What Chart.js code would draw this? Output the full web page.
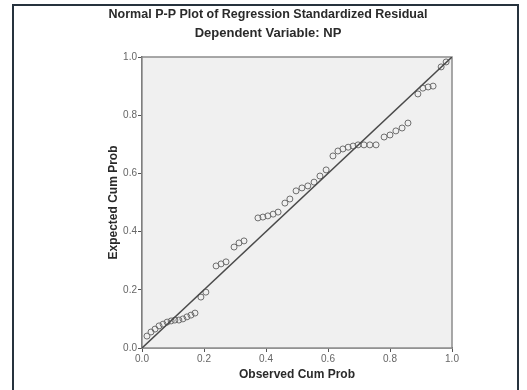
<!DOCTYPE html>
<html>
<head>
<meta charset="utf-8">
<script src="https://cdn.jsdelivr.net/npm/chart.js@4.4.1/dist/chart.umd.min.js"></script>
<style>
  html, body { margin: 0; padding: 0; background: #fff; }
  #wrap { position: relative; width: 527px; height: 390px; overflow: hidden; }
  #frame { position: absolute; left: 12px; top: 4px; width: 507px; height: 400px; border: 2px solid #26323d; box-sizing: border-box; }
  #box { position: absolute; left: 0; top: 0; width: 527px; height: 390px; }
</style>
</head>
<body>
<div id="wrap">
  <div id="frame"></div>
  <div id="box"><canvas id="ppChart"></canvas></div>
</div>
<script>
// Normal P-P plot
const observedCumProb = [
  0.016, 0.029, 0.042, 0.055, 0.068, 0.081, 0.094, 0.106, 0.119, 0.132,
  0.145, 0.158, 0.171, 0.190, 0.206, 0.239, 0.255, 0.271, 0.297, 0.313,
  0.329, 0.374, 0.390, 0.406, 0.423, 0.439, 0.461, 0.477, 0.497, 0.516,
  0.535, 0.555, 0.574, 0.594, 0.616, 0.632, 0.648, 0.665, 0.681, 0.697,
  0.716, 0.735, 0.755, 0.781, 0.800, 0.819, 0.839, 0.858, 0.890, 0.906,
  0.923, 0.939, 0.965, 0.981
];
const expectedCumProb = [
  0.041, 0.055, 0.065, 0.076, 0.082, 0.089, 0.093, 0.096, 0.096, 0.100,
  0.107, 0.113, 0.120, 0.175, 0.192, 0.282, 0.289, 0.296, 0.347, 0.361,
  0.368, 0.447, 0.450, 0.454, 0.460, 0.467, 0.498, 0.512, 0.540, 0.550,
  0.557, 0.570, 0.591, 0.612, 0.660, 0.677, 0.684, 0.690, 0.694, 0.698,
  0.698, 0.698, 0.698, 0.725, 0.732, 0.746, 0.756, 0.773, 0.873, 0.893,
  0.897, 0.900, 0.966, 0.983
];
const refLine = [0, 1];
const tickValues = [0, 0.2, 0.4, 0.6, 0.8, 1.0];

const titleText = 'Normal P-P Plot of Regression Standardized Residual';
const subtitleText = 'Dependent Variable: NP';

const FONT = "'Liberation Sans', Arial, sans-serif";

// plot background, frame and the two title lines
const plotDecor = {
  id: 'plotDecor',
  beforeDatasetsDraw(chart) {
    const { ctx, chartArea: a } = chart;
    ctx.save();
    ctx.fillStyle = '#f0f0f0';
    ctx.fillRect(a.left, a.top, a.right - a.left, a.bottom - a.top);
    ctx.strokeStyle = '#8c8c8c';
    ctx.lineWidth = 1.5;
    ctx.strokeRect(a.left, a.top, a.right - a.left, a.bottom - a.top);
    ctx.restore();
  },
  afterDraw(chart) {
    const ctx = chart.ctx;
    ctx.save();
    ctx.fillStyle = '#2a2a2a';
    ctx.textAlign = 'center';
    ctx.textBaseline = 'middle';
    ctx.font = 'bold 12.5px ' + FONT;
    ctx.fillText(titleText, 268, 15);
    ctx.font = 'bold 13px ' + FONT;
    ctx.fillText(subtitleText, 268, 33);
    ctx.restore();
  }
};

const ctx = document.getElementById('ppChart');
new Chart(ctx, {
  type: 'scatter',
  data: {
    datasets: [
      {
        type: 'line',
        data: refLine.map(v => ({ x: v, y: v })),
        borderColor: '#4a4a4a',
        borderWidth: 1.5,
        pointRadius: 0,
        fill: false
      },
      {
        data: observedCumProb.map((x, i) => ({ x: x, y: expectedCumProb[i] })),
        pointStyle: 'circle',
        pointRadius: 3,
        pointBorderWidth: 1,
        pointBorderColor: '#6e6e6e',
        pointBackgroundColor: 'rgba(0,0,0,0)'
      }
    ]
  },
  options: {
    responsive: true,
    maintainAspectRatio: false,
    animation: false,
    layout: { padding: { left: 0, top: 57, right: 75, bottom: 0 } },
    plugins: {
      legend: { display: false },
      tooltip: { enabled: false }
    },
    scales: {
      x: {
        type: 'linear',
        min: 0,
        max: 1,
        afterBuildTicks: s => { s.ticks = tickValues.map(v => ({ value: v })); },
        afterFit: s => { s.height = 42; },
        grid: { drawOnChartArea: false, drawTicks: true, tickLength: 4, color: '#555' },
        border: { color: '#555', width: 1.5 },
        ticks: { padding: 1, color: '#666', font: { family: FONT, size: 10 }, maxRotation: 0,
                 callback: v => v.toFixed(1) },
        title: { display: true, text: 'Observed Cum Prob', color: '#2a2a2a',
                 font: { family: FONT, size: 12, weight: 'bold' }, padding: { top: 0, bottom: 8 } }
      },
      y: {
        type: 'linear',
        min: 0,
        max: 1,
        afterBuildTicks: s => { s.ticks = tickValues.map(v => ({ value: v })); },
        afterFit: s => { s.width = 142; },
        grid: { drawOnChartArea: false, drawTicks: true, tickLength: 4, color: '#555' },
        border: { color: '#555', width: 1.5 },
        ticks: { padding: 1, color: '#666', font: { family: FONT, size: 10 },
                 callback: v => v.toFixed(1) },
        title: { display: true, text: 'Expected Cum Prob', color: '#2a2a2a',
                 font: { family: FONT, size: 12, weight: 'bold' }, padding: { top: 106, bottom: 0 } }
      }
    }
  },
  plugins: [plotDecor]
});
</script>
</body>
</html>
